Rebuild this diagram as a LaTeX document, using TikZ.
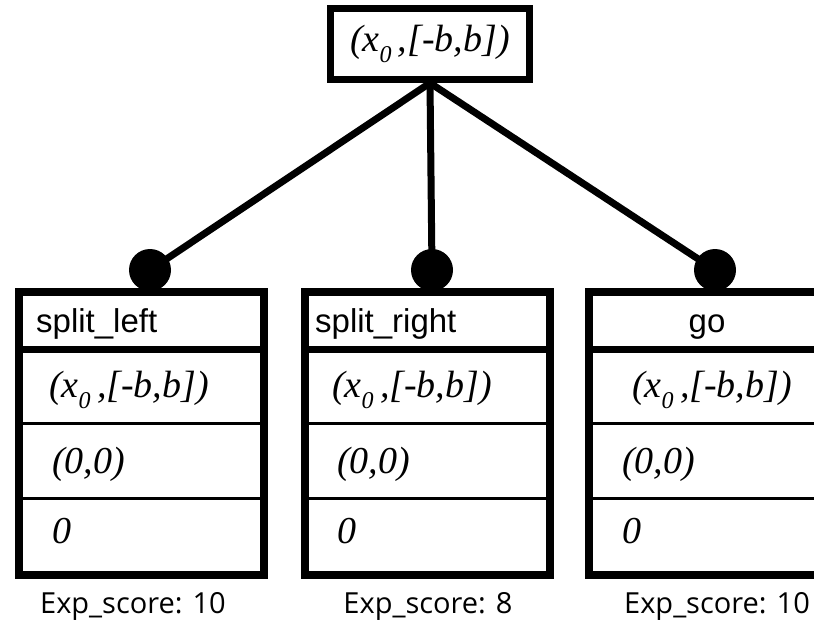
\documentclass[tikz,border=0pt]{standalone}
\usepackage{fontspec}
\setmainfont{Liberation Serif}
\newfontfamily\labelfont{Liberation Sans}
\newfontfamily\scorefont{Open Sans}

% state pair with its subscripted start point
\newcommand{\stateval}{\textit{(x\raisebox{-0.3em}{\fontsize{24}{24}\selectfont 0}\,,[-b,b])}}

\tikzset{
  rootbox/.style={draw, line width=7pt, minimum width=199pt, minimum height=71pt, inner sep=0pt, font=\fontsize{38}{40}\selectfont},
  actbox/.style={draw, line width=8pt, minimum width=245pt, minimum height=283pt, inner sep=0pt},
  knob/.style={circle, fill, inner sep=0pt, minimum size=42pt},
  link/.style={line width=7pt},
  title/.style={font=\labelfont\fontsize{33}{35}\selectfont, inner sep=0pt},
  entry/.style={font=\fontsize{38}{40}\selectfont, anchor=base west, inner sep=0pt},
  score/.style={font=\scorefont\fontsize{29}{30}\selectfont, anchor=base, inner sep=0pt}
}

\begin{document}
\begin{tikzpicture}[x=1pt,y=-1pt]
\clip (0,0) rectangle (814,622);

% root state
\node[rootbox] (root) at (430,44) {\stateval};

% knobs on top of the action boxes
\node[knob] (knobL) at (150,270) {};
\node[knob] (knobM) at (432,270) {};
\node[knob] (knobR) at (715,270) {};

% edges from the root
\draw[link] (root.south) -- (knobL.center);
\draw[link] (root.south) -- (knobM.center);
\draw[link] (root.south) -- (knobR.center);

% action: split_left
\node[actbox] (boxL) at (141.5,433.5) {};
\draw[line width=7pt] (19,349) -- (264,349);
\draw[line width=3pt] (19,423) -- (264,423);
\draw[line width=3pt] (19,498) -- (264,498);
\node[title, anchor=base west] (nameL) at (36,332) {split\_left};
\node[entry] (stateL) at (49,397) {\stateval};
\node[entry] (moveL) at (52,473) {\textit{(0,0)}};
\node[entry] (costL) at (52,543) {\textit{0}};
\node[score] (scoreL) at (133,613) {Exp\_score: 10};

% action: split_right
\node[actbox] (boxM) at (427.75,433.5) {};
\draw[line width=7pt] (305.5,349) -- (550,349);
\draw[line width=3pt] (305.5,423) -- (550,423);
\draw[line width=3pt] (305.5,498) -- (550,498);
\node[title, anchor=base west] (nameM) at (315,332) {split\_right};
\node[entry] (stateM) at (332,397) {\stateval};
\node[entry] (moveM) at (337,473) {\textit{(0,0)}};
\node[entry] (costM) at (337,543) {\textit{0}};
\node[score] (scoreM) at (428,613) {Exp\_score: 8};

% action: go
\node[actbox] (boxR) at (711.5,433.5) {};
\draw[line width=7pt] (589,349) -- (834,349);
\draw[line width=3pt] (589,423) -- (834,423);
\draw[line width=3pt] (589,498) -- (834,498);
\node[title, anchor=base] (nameR) at (707,332) {go};
\node[entry] (stateR) at (632,397) {\stateval};
\node[entry] (moveR) at (622,473) {\textit{(0,0)}};
\node[entry] (costR) at (622,543) {\textit{0}};
\node[score] (scoreR) at (717,613) {Exp\_score: 10};

\end{tikzpicture}
\end{document}
